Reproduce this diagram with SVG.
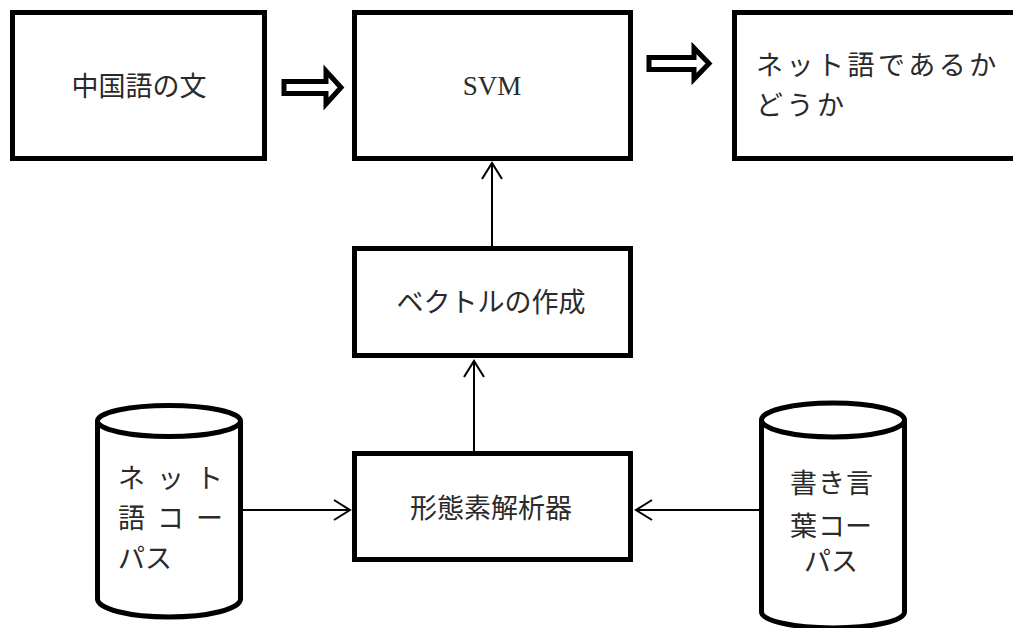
<svg xmlns="http://www.w3.org/2000/svg" width="1013" height="628" viewBox="0 0 1013 628">
<style>
.box{fill:#fff;stroke:#000;stroke-width:5}
.cyl{fill:#fff;stroke:#000;stroke-width:5}
.hollow{fill:#fff;stroke:#000;stroke-width:5;stroke-linejoin:miter}
.lbl{font-family:"Liberation Serif","Noto Sans CJK JP",serif;font-size:27px;fill:#2a2a2a}
.c{text-anchor:middle}
.conn{stroke:#000;stroke-width:2;fill:none}
</style>
<defs>
<marker id="open" markerUnits="userSpaceOnUse" markerWidth="24" markerHeight="24" viewBox="-18 -12 20 24" refX="0" refY="0" orient="auto">
<path d="M-16,-10 L0,0 L-16,10" fill="none" stroke="#000" stroke-width="2"/>
</marker>
</defs>
<rect width="1013" height="628" fill="#fff"/>
<g id="connectors">
<polygon class="hollow" points="284,81.5 326,81.5 326,71 341,87.5 326,104 326,93.5 284,93.5"/>
<polygon class="hollow" points="649,57.5 694,57.5 694,48 709,63.5 694,79 694,69.5 649,69.5"/>
<line class="conn" x1="492" y1="246" x2="492" y2="163" marker-end="url(#open)"/>
<line class="conn" x1="474" y1="451" x2="474" y2="361" marker-end="url(#open)"/>
<line class="conn" x1="242" y1="510" x2="350" y2="510" marker-end="url(#open)"/>
<line class="conn" x1="759" y1="510" x2="636" y2="510" marker-end="url(#open)"/>
</g>
<g id="chinese">
<rect class="box" x="12.5" y="12.5" width="252" height="146"/>
<text class="lbl c" x="139" y="96">中国語の文</text>
</g>
<g id="svm">
<rect class="box" x="354.5" y="12.5" width="276" height="146"/>
<text class="lbl c" x="492" y="95">SVM</text>
</g>
<g id="result">
<rect class="box" x="734.5" y="12.5" width="290" height="146"/>
<text class="lbl" x="756" y="75" letter-spacing="3.5">ネット語であるか</text>
<text class="lbl" x="756" y="115" letter-spacing="3.5">どうか</text>
</g>
<g id="vector">
<rect class="box" x="354.5" y="248.5" width="276" height="107"/>
<text class="lbl c" x="491" y="312">ベクトルの作成</text>
</g>
<g id="analyzer">
<rect class="box" x="354.5" y="453.5" width="276" height="106"/>
<text class="lbl c" x="491" y="518">形態素解析器</text>
</g>
<g id="netcorpus">
<path class="cyl" d="M97.5,421 L97.5,599 A71.5,18 0 0 0 240.5,599 L240.5,421"/>
<ellipse class="cyl" cx="169" cy="421" rx="71.5" ry="15.5"/>
<text class="lbl" x="118 157 196" y="488">ネット</text>
<text class="lbl" x="118 157 196" y="528">語コー</text>
<text class="lbl" x="118 145" y="568">パス</text>
</g>
<g id="writtencorpus">
<path class="cyl" d="M761.5,420 L761.5,612 A71.5,16 0 0 0 904.5,612 L904.5,420"/>
<ellipse class="cyl" cx="833" cy="420" rx="71.5" ry="17"/>
<text class="lbl" x="790 818 846" y="493">書き言</text>
<text class="lbl" x="790 818 845" y="536">葉コー</text>
<text class="lbl" x="804 831" y="571">パス</text>
</g>
</svg>
